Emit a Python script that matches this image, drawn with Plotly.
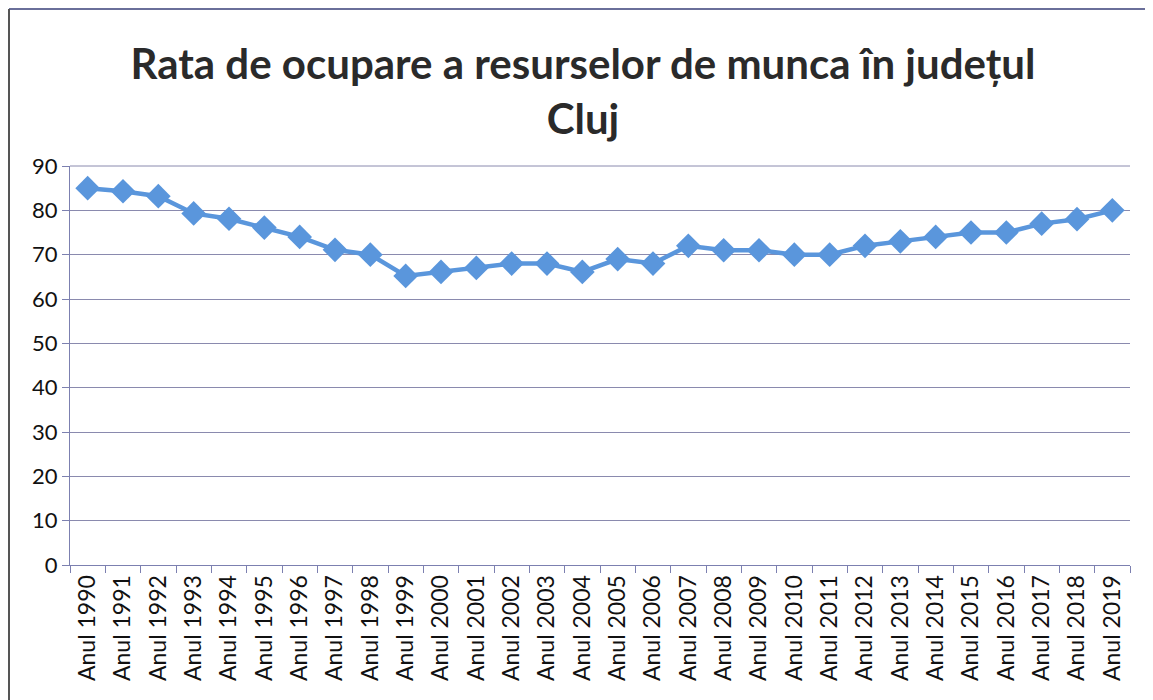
import plotly.graph_objects as go

years = [f"Anul {y}" for y in range(1990, 2020)]
values = [85, 84.3, 83.2, 79.3, 78.1, 76.1, 74, 71.1, 70, 65.2, 66.1, 67, 68, 68, 66.1,
          69, 68, 72, 71, 71, 70, 70, 72, 73, 74, 75, 75, 77, 78, 80]

# page has an 8px body margin; figure sized to fit the viewport
W, H = 1145, 692
L, T = 62, 158
Rr, Bb = 1122, 557
pw, ph = Rr - L, Bb - T

FONT = "Lato, Open Sans, sans-serif"
AX = "#7c80b0"

fig = go.Figure()
fig.add_trace(go.Scatter(
    x=years, y=values, mode="lines+markers",
    line=dict(color="#5a96dc", width=4.5),
    marker=dict(symbol="diamond", size=19, color="#5a96dc"),
    showlegend=False,
))

def px_x(p):
    return (p - L) / pw

def px_y(p):
    return (Bb - p) / ph

fig.update_layout(
    width=W, height=H,
    margin=dict(l=L, r=W - Rr, t=T, b=H - Bb),
    paper_bgcolor="white", plot_bgcolor="white",
    font=dict(family=FONT, color="#111"),
    title=dict(
        text="<b>Rata de ocupare a resurselor de munca în județul<br>Cluj</b>",
        x=575 / W, xref="container", xanchor="center", y=1 - 71 / H, yanchor="top",
        font=dict(size=42, family=FONT, color="#2a2a2a"),
    ),
    xaxis=dict(
        type="category", tickangle=-90, tickson="boundaries",
        ticks="outside", ticklen=7, tickcolor=AX,
        showline=True, linecolor=AX, linewidth=1,
        showgrid=False, tickfont=dict(size=23, color="#111"),
        range=[-0.5, 29.5],
    ),
    yaxis=dict(
        range=[0, 90], dtick=10, showgrid=True, gridcolor="#8a8aae", gridwidth=1,
        ticks="outside", ticklen=7, tickcolor=AX,
        showline=True, linecolor=AX, zeroline=False,
        tickfont=dict(size=22, color="#111"),
    ),
    shapes=[
        dict(type="line", xref="paper", yref="paper",
             x0=0, x1=1, y0=1, y1=1, line=dict(color="#8a8aae", width=1), layer="below"),
        dict(type="line", xref="paper", yref="paper",
             x0=px_x(1), x1=px_x(W), y0=px_y(1), y1=px_y(1),
             line=dict(color="#6a6f9a", width=2)),
        dict(type="line", xref="paper", yref="paper",
             x0=px_x(1), x1=px_x(1), y0=px_y(1), y1=px_y(H),
             line=dict(color="#555", width=2)),
    ],
)

fig.write_html("out.html")
